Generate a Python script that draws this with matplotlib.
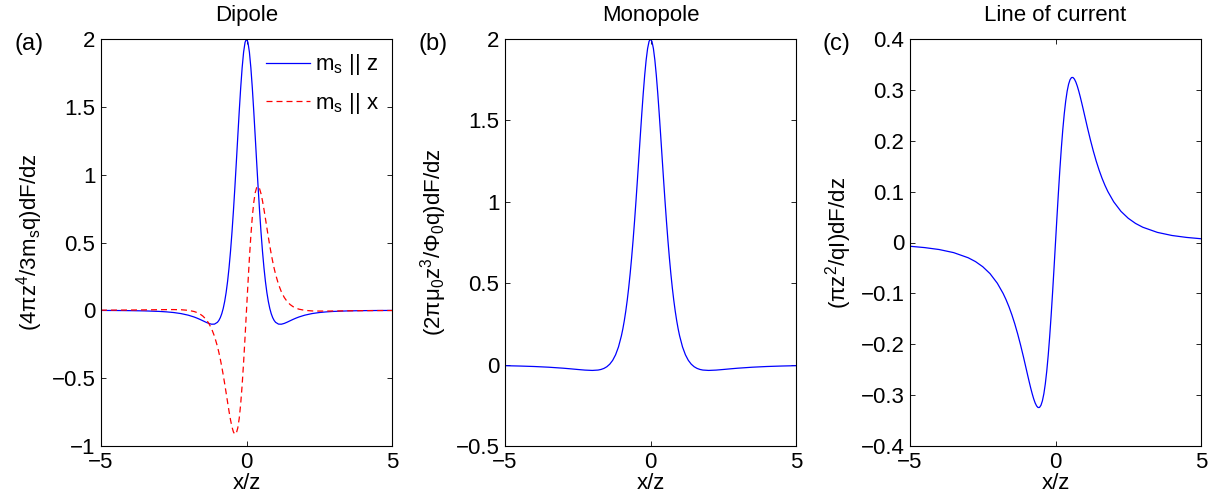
import matplotlib
matplotlib.use("Agg")
import matplotlib.pyplot as plt
from matplotlib.ticker import FuncFormatter

plt.rcParams['font.family'] = ['Liberation Sans', 'DejaVu Sans']
plt.rcParams['mathtext.fontset'] = 'custom'
plt.rcParams['mathtext.rm'] = 'Liberation Sans'
plt.rcParams['mathtext.it'] = 'Liberation Sans'
plt.rcParams['mathtext.bf'] = 'Liberation Sans:bold'

# sample positions x/z (denser near the centre)
x = [-5, -4.5, -4, -3.5, -3, -2.75, -2.5, -2.25, -2, -1.8, -1.7, -1.6, -1.5,
     -1.4, -1.3, -1.2, -1.1, -1.0, -0.95, -0.9, -0.85, -0.8, -0.75, -0.7,
     -0.65, -0.6, -0.55, -0.5, -0.45, -0.4, -0.35, -0.3, -0.25, -0.2, -0.15,
     -0.1, -0.05,
     0,
     0.05, 0.1, 0.15, 0.2, 0.25, 0.3, 0.35, 0.4, 0.45, 0.5, 0.55, 0.6, 0.65,
     0.7, 0.75, 0.8, 0.85, 0.9, 0.95, 1.0, 1.1, 1.2, 1.3, 1.4, 1.5, 1.6, 1.7,
     1.8, 2, 2.25, 2.5, 2.75, 3, 3.5, 4, 4.5, 5]

# (a) dipole, m_s || z
dip_z = [-0.0008, -0.0013, -0.0023, -0.0041, -0.0079, -0.0113, -0.0163, -0.0240,
         -0.0358, -0.0492, -0.0575, -0.0667, -0.0768, -0.0870, -0.0962, -0.1022,
         -0.1016, -0.0884, -0.0745, -0.0539, -0.0250, 0.0142, 0.0655, 0.1313,
         0.2134, 0.3136, 0.4332, 0.5724, 0.7303, 0.9042, 1.0894, 1.2795, 1.4660,
         1.6389, 1.7877, 1.9026, 1.9752,
         2.0,
         1.9752, 1.9026, 1.7877, 1.6389, 1.4660, 1.2795, 1.0894, 0.9042, 0.7303,
         0.5724, 0.4332, 0.3136, 0.2134, 0.1313, 0.0655, 0.0142, -0.0250, -0.0539,
         -0.0745, -0.0884, -0.1016, -0.1022, -0.0962, -0.0870, -0.0768, -0.0667,
         -0.0575, -0.0492, -0.0358, -0.0240, -0.0163, -0.0113, -0.0079, -0.0041,
         -0.0023, -0.0013, -0.0008]
# (a) dipole, m_s || x
dip_x = [0.0012, 0.0017, 0.0024, 0.0034, 0.0047, 0.0053, 0.0055, 0.0044, 0.0,
         -0.0087, -0.0163, -0.0271, -0.0424, -0.0640, -0.0941, -0.1354, -0.1913,
         -0.2652, -0.3098, -0.3599, -0.4153, -0.4759, -0.5407, -0.6085, -0.6773,
         -0.7445, -0.8064, -0.8587, -0.8962, -0.9137, -0.9056, -0.8676, -0.7962,
         -0.6904, -0.5519, -0.3853, -0.1981,
         0.0,
         0.1981, 0.3853, 0.5519, 0.6904, 0.7962, 0.8676, 0.9056, 0.9137, 0.8962,
         0.8587, 0.8064, 0.7445, 0.6773, 0.6085, 0.5407, 0.4759, 0.4153, 0.3599,
         0.3098, 0.2652, 0.1913, 0.1354, 0.0941, 0.0640, 0.0424, 0.0271, 0.0163,
         0.0087, 0.0, -0.0044, -0.0055, -0.0053, -0.0047, -0.0034, -0.0024,
         -0.0017, -0.0012]
# (b) monopole
mono = [-0.0067, -0.0088, -0.0117, -0.0160, -0.0221, -0.0259, -0.0300, -0.0338,
        -0.0358, -0.0335, -0.0298, -0.0234, -0.0131, 0.0027, 0.0261, 0.0602,
        0.1088, 0.1768, 0.2198, 0.2700, 0.3281, 0.3948, 0.4710, 0.5572, 0.6536,
        0.7603, 0.8767, 1.0018, 1.1336, 1.2696, 1.4064, 1.5398, 1.6650, 1.7769,
        1.8705, 1.9411, 1.9851,
        2.0,
        1.9851, 1.9411, 1.8705, 1.7769, 1.6650, 1.5398, 1.4064, 1.2696, 1.1336,
        1.0018, 0.8767, 0.7603, 0.6536, 0.5572, 0.4710, 0.3948, 0.3281, 0.2700,
        0.2198, 0.1768, 0.1088, 0.0602, 0.0261, 0.0027, -0.0131, -0.0234, -0.0298,
        -0.0335, -0.0358, -0.0338, -0.0300, -0.0259, -0.0221, -0.0160, -0.0117,
        -0.0088, -0.0067]
# (c) line of current
line_cur = [-0.0074, -0.0100, -0.0138, -0.0199, -0.0300, -0.0375, -0.0476, -0.0612,
            -0.0800, -0.1001, -0.1123, -0.1262, -0.1420, -0.1598, -0.1797, -0.2016,
            -0.2252, -0.2500, -0.2625, -0.2747, -0.2865, -0.2974, -0.3072, -0.3153,
            -0.3212, -0.3244, -0.3242, -0.3200, -0.3112, -0.2973, -0.2778, -0.2525,
            -0.2215, -0.1849, -0.1435, -0.0980, -0.0498,
            0.0,
            0.0498, 0.0980, 0.1435, 0.1849, 0.2215, 0.2525, 0.2778, 0.2973, 0.3112,
            0.3200, 0.3242, 0.3244, 0.3212, 0.3153, 0.3072, 0.2974, 0.2865, 0.2747,
            0.2625, 0.2500, 0.2252, 0.2016, 0.1797, 0.1598, 0.1420, 0.1262, 0.1123,
            0.1001, 0.0800, 0.0612, 0.0476, 0.0375, 0.0300, 0.0199, 0.0138, 0.0100,
            0.0074]

titles = ["Dipole", "Monopole", "Line of current"]
panel_tags = ["(a)", "(b)", "(c)"]
ylabels = [r"(4πz$^{4}$/3m$_{\mathrm{s}}$q)dF/dz",
           r"(2πμ$_{0}$z$^{3}$/Φ$_{0}$q)dF/dz",
           r"(πz$^{2}$/qI)dF/dz"]
ylims = [(-1, 2), (-0.5, 2), (-0.4, 0.4)]
yticks = [[-1, -0.5, 0, 0.5, 1, 1.5, 2],
          [-0.5, 0, 0.5, 1, 1.5, 2],
          [-0.4, -0.3, -0.2, -0.1, 0, 0.1, 0.2, 0.3, 0.4]]

fs = 16
fig = plt.figure(figsize=(12.13, 5.0), dpi=100)
lefts = [101 / 1213, 505 / 1213, 910 / 1213]
tag_x = [14 / 1213, 418 / 1213, 822 / 1213]
fmt = FuncFormatter(lambda v, p: f"{round(v, 3):g}".replace("-", "\u2212"))

axes = []
for i in range(3):
    ax = fig.add_axes([lefts[i], 0.108, 291 / 1213, 0.814])
    axes.append(ax)
    ax.set_xlim(-5, 5)
    ax.set_ylim(*ylims[i])
    ax.set_xticks([-5, 0, 5])
    ax.set_yticks(yticks[i])
    ax.xaxis.set_major_formatter(fmt)
    ax.yaxis.set_major_formatter(fmt)
    ax.tick_params(direction="in", length=3.5, width=0.6, labelsize=fs,
                   top=True, right=True, pad=4)
    for sp in ax.spines.values():
        sp.set_linewidth(0.8)
    ax.set_title(titles[i], fontsize=fs, pad=13)
    ax.set_xlabel("x/z", fontsize=fs, labelpad=0)
    ax.set_ylabel(ylabels[i], fontsize=fs, labelpad=5)
    fig.text(tag_x[i], 0.912, panel_tags[i], fontsize=17, va="center", ha="left")

axes[0].plot(x, dip_z, color="#0000ff", lw=0.9, label=r"m$_{\mathrm{s}}$ || z")
axes[0].plot(x, dip_x, color="#ff0000", lw=0.9, dashes=(4.8, 3.2),
             label=r"m$_{\mathrm{s}}$ || x")
axes[0].legend(loc="upper right", frameon=False, fontsize=fs, handlelength=2.0,
               handletextpad=0.2, labelspacing=0.6, borderaxespad=0.2)
axes[1].plot(x, mono, color="#0000ff", lw=0.9)
axes[2].plot(x, line_cur, color="#0000ff", lw=0.9)

fig.savefig("out.png", dpi=100)
